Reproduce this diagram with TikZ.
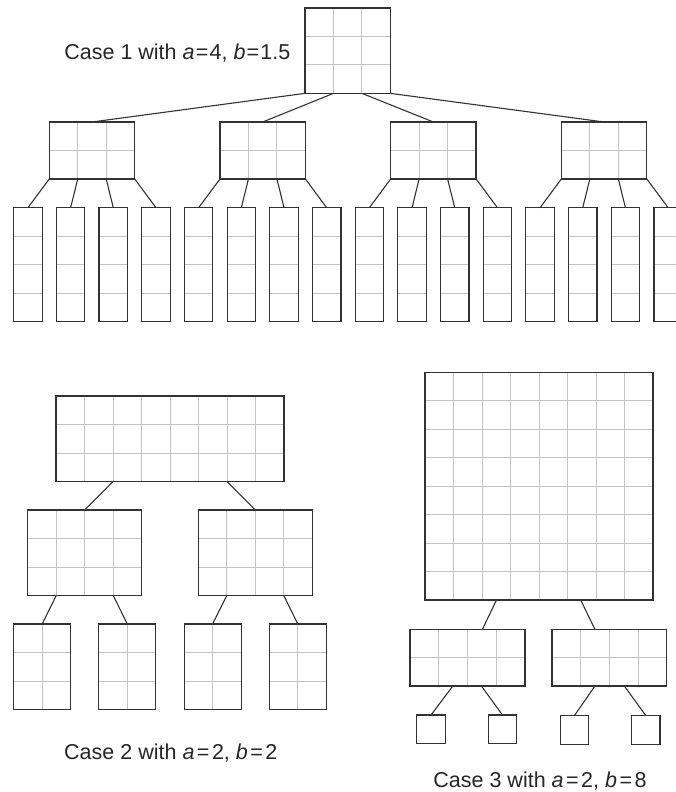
\documentclass[tikz,border=0pt]{standalone}
\usepackage{fontspec}
\setmainfont{Liberation Sans}
\usetikzlibrary{calc}
\definecolor{boxc}{HTML}{333333}
\definecolor{gridc}{HTML}{C4C4C4}
\tikzset{
  gridline/.style={draw=gridc, line width=0.85pt},
  cellbox/.style={draw=boxc, line width=1.2pt, inner sep=0pt, outer sep=0pt},
  conn/.style={draw=boxc, line width=1.1pt},
  lab/.style={inner sep=0pt, font=\fontsize{21.5}{24}\selectfont, text=black!85}
}
% #1 name, #2 left, #3 top, #4 cols, #5 rows, #6 cell w, #7 cell h
\newcommand\gridbox[7]{%
  \pgfmathtruncatemacro\gbnc{#4-1}%
  \pgfmathtruncatemacro\gbnr{#5-1}%
  \ifnum\gbnc>0 \foreach \gbi in {1,...,\gbnc}{\draw[gridline] ({#2+\gbi*#6},#3) -- ({#2+\gbi*#6},{#3+#5*#7});}\fi
  \ifnum\gbnr>0 \foreach \gbj in {1,...,\gbnr}{\draw[gridline] (#2,{#3+\gbj*#7}) -- ({#2+#4*#6},{#3+\gbj*#7});}\fi
  \node[cellbox, minimum width={#4*#6*1pt}, minimum height={#5*#7*1pt}, anchor=north west] (#1) at (#2,#3) {};%
}
\newcommand\eqk[1]{\kern#1=\kern#1}
\begin{document}
\begin{tikzpicture}[x=1pt,y=-1pt]
\useasboundingbox (0,0) rectangle (676,792);
\clip (0,0) rectangle (676,792);

% ---------- Case 1 ----------
\gridbox{r1}{305}{8}{3}{3}{28.45}{28.45}
\foreach \k in {0,...,3}{%
  \pgfmathsetmacro\xx{49.3+\k*170.7}%
  \gridbox{m\k}{\xx}{122}{3}{2}{28.45}{28.45}%
}
\foreach \q in {0,...,15}{%
  \pgfmathsetmacro\xx{13.7+\q*42.68}%
  \gridbox{l\q}{\xx}{207.7}{1}{4}{28.45}{28.45}%
}
\foreach \k in {0,...,3}{%
  \draw[conn] ($(r1.south west)+(\k*28.45,0)$) -- (m\k.north);
  \foreach \m in {0,...,3}{%
    \pgfmathtruncatemacro\jj{4*\k+\m}%
    \draw[conn] ($(m\k.south west)+(\m*28.45,0)$) -- (l\jj.north);
  }
}
\node[lab, anchor=base east] (t1) at (290.5,59.3) {Case 1 with \textit{a}\eqk{1.2pt}4, \textit{b}\eqk{1.2pt}1.5};

% ---------- Case 2 ----------
\gridbox{r2}{56}{396}{8}{3}{28.5}{28.5}
\gridbox{a2}{27.7}{510}{4}{3}{28.5}{28.5}
\gridbox{b2}{198.3}{510}{4}{3}{28.5}{28.5}
\gridbox{c2}{13.7}{624}{2}{3}{28.5}{28.5}
\gridbox{d2}{98.8}{624}{2}{3}{28.5}{28.5}
\gridbox{e2}{184.1}{624}{2}{3}{28.5}{28.5}
\gridbox{f2}{269.3}{624}{2}{3}{28.5}{28.5}
\draw[conn] ($(r2.south west)+(57,0)$) -- (a2.north);
\draw[conn] ($(r2.south west)+(171,0)$) -- (b2.north);
\draw[conn] ($(a2.south west)+(28.5,0)$) -- (c2.north);
\draw[conn] ($(a2.south west)+(85.5,0)$) -- (d2.north);
\draw[conn] ($(b2.south west)+(28.5,0)$) -- (e2.north);
\draw[conn] ($(b2.south west)+(85.5,0)$) -- (f2.north);
\node[lab, anchor=base] (t2) at (170.8,759.7) {Case 2 with \textit{a}\eqk{2.5pt}2, \textit{b}\eqk{2.5pt}2};

% ---------- Case 3 ----------
\gridbox{r3}{425}{372.3}{8}{8}{28.5}{28.46}
\gridbox{a3}{410}{629.5}{4}{2}{28.75}{28.2}
\gridbox{b3}{552}{629.5}{4}{2}{28.67}{28.2}
\gridbox{c3}{416.7}{715}{1}{1}{28.6}{28.6}
\gridbox{d3}{488.2}{715}{1}{1}{28.6}{28.6}
\gridbox{e3}{560.2}{715.5}{1}{1}{28.6}{28.6}
\gridbox{f3}{631.4}{715.5}{1}{1}{28.6}{28.6}
\draw[conn] ($(r3.south west)+(71.5,0)$) -- ($(a3.north west)+(72.3,0)$);
\draw[conn] ($(r3.south west)+(155.7,0)$) -- ($(b3.north west)+(43,0)$);
\draw[conn] ($(a3.south west)+(42.9,0)$) -- (c3.north);
\draw[conn] ($(a3.south west)+(71.3,0)$) -- (d3.north);
\draw[conn] ($(b3.south west)+(43,0)$) -- (e3.north);
\draw[conn] ($(b3.south west)+(72.3,0)$) -- (f3.north);
\node[lab, anchor=base] (t3) at (540,787.7) {Case 3 with \textit{a}\eqk{2.5pt}2, \textit{b}\eqk{2.5pt}8};
\end{tikzpicture}
\end{document}
